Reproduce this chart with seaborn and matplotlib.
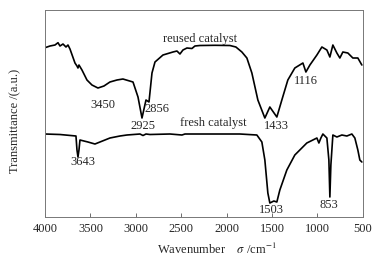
import matplotlib
matplotlib.use("Agg")
import matplotlib.pyplot as plt
import seaborn as sns

# FTIR spectra, wavenumber (cm-1) and transmittance (a.u.)
reused_wn = [4000, 3945, 3890, 3857, 3835, 3802, 3769, 3747, 3725, 3670, 3648, 3637, 3626, 3593,
             3538, 3483, 3417, 3351, 3285, 3208, 3142, 3031, 2976, 2932, 2888, 2855, 2822, 2789,
             2701, 2591, 2547, 2514, 2481, 2437, 2382, 2349, 2294, 2129, 1964, 1898, 1832, 1777,
             1722, 1656, 1579, 1524, 1447, 1392, 1326, 1249, 1160, 1127, 1083, 1006, 951, 896,
             863, 830, 786, 753, 720, 665, 610, 555, 511]
reused_t = [169.3, 171, 172, 174.3, 171, 173, 170, 172, 168, 154, 151, 149, 152, 147,
            137, 132, 129, 131, 135, 137, 138, 135, 120, 99, 117, 115, 144, 155,
            162, 165, 166, 163, 167, 169, 168.5, 171, 171.5, 171.7, 171.5, 170, 165, 159,
            144, 117, 99, 110, 100, 117, 137, 149, 154, 145, 152, 162, 170, 167,
            160, 172, 164, 159, 165, 164, 159, 159, 152]

fresh_wn = [4000, 3835, 3659, 3648, 3637, 3626, 3615, 3571, 3527, 3450, 3395, 3285, 3175, 3098,
            2954, 2921, 2888, 2844, 2624, 2492, 2459, 2074, 1854, 1667, 1612, 1579, 1546, 1524,
            1480, 1447, 1414, 1337, 1249, 1117, 1006, 984, 962, 940, 896, 874, 863, 852, 830,
            786, 731, 676, 621, 588, 555, 533, 511]
fresh_t = [83, 82.5, 81, 67, 60, 67, 77, 76, 75, 73, 75, 79, 81, 82,
           83, 81.5, 83, 82.5, 83, 82, 83, 83, 83, 82, 75, 57, 24, 14,
           16, 15, 27, 47, 62, 74, 79, 74, 79, 83, 79, 57, 20, 52, 82,
           80, 82, 81, 83, 79, 67, 57, 55]

# peak labels: text, wavenumber, height
peak_labels = ["3450", "2925", "2856", "1433", "1116", "3643", "1503", "853"]
peak_wn = [3362, 2921, 2762, 1447, 1127, 3582, 1507, 874]
peak_y = [112, 91, 108, 91, 136, 55, 7, 12]

sns.set_style("ticks")
plt.rcParams["font.family"] = ["Liberation Serif", "DejaVu Serif"]
plt.rcParams["mathtext.fontset"] = "stix"
fs = 9

fig = plt.figure(figsize=(3.86, 2.64), dpi=100)
ax = fig.add_axes([0.1166, 0.178, 0.8234, 0.786])

sns.lineplot(x=reused_wn, y=reused_t, ax=ax, color="black", lw=1.2, sort=False, estimator=None)
sns.lineplot(x=fresh_wn, y=fresh_t, ax=ax, color="black", lw=1.2, sort=False, estimator=None)

ax.text(2294, 178, "reused catalyst", ha="center", va="center", fontsize=fs)
ax.text(2151, 94, "fresh catalyst", ha="center", va="center", fontsize=fs)
for lab, w, y in zip(peak_labels, peak_wn, peak_y):
    ax.text(w, y, lab, ha="center", va="center", fontsize=fs)

ax.set_xlim(4000, 500)
ax.set_ylim(0, 207.5)
ax.set_xticks([4000, 3500, 3000, 2500, 2000, 1500, 1000, 500])
ax.set_yticks([])
ax.tick_params(axis="x", direction="in", length=3, width=0.6, labelsize=fs, pad=4, color="#555555")
for s in ax.spines.values():
    s.set_visible(True)
    s.set_linewidth(0.7)
    s.set_color("#777777")

ax.set_xlabel(r"Wavenumber    $\sigma$ /cm$^{-1}$", fontsize=fs)
ax.set_ylabel("Transmittance /(a.u.)", fontsize=fs)
ax.xaxis.set_label_coords(0.54, -0.12)
ax.yaxis.set_label_coords(-0.075, 0.465)

fig.savefig("out.png", dpi=100)
